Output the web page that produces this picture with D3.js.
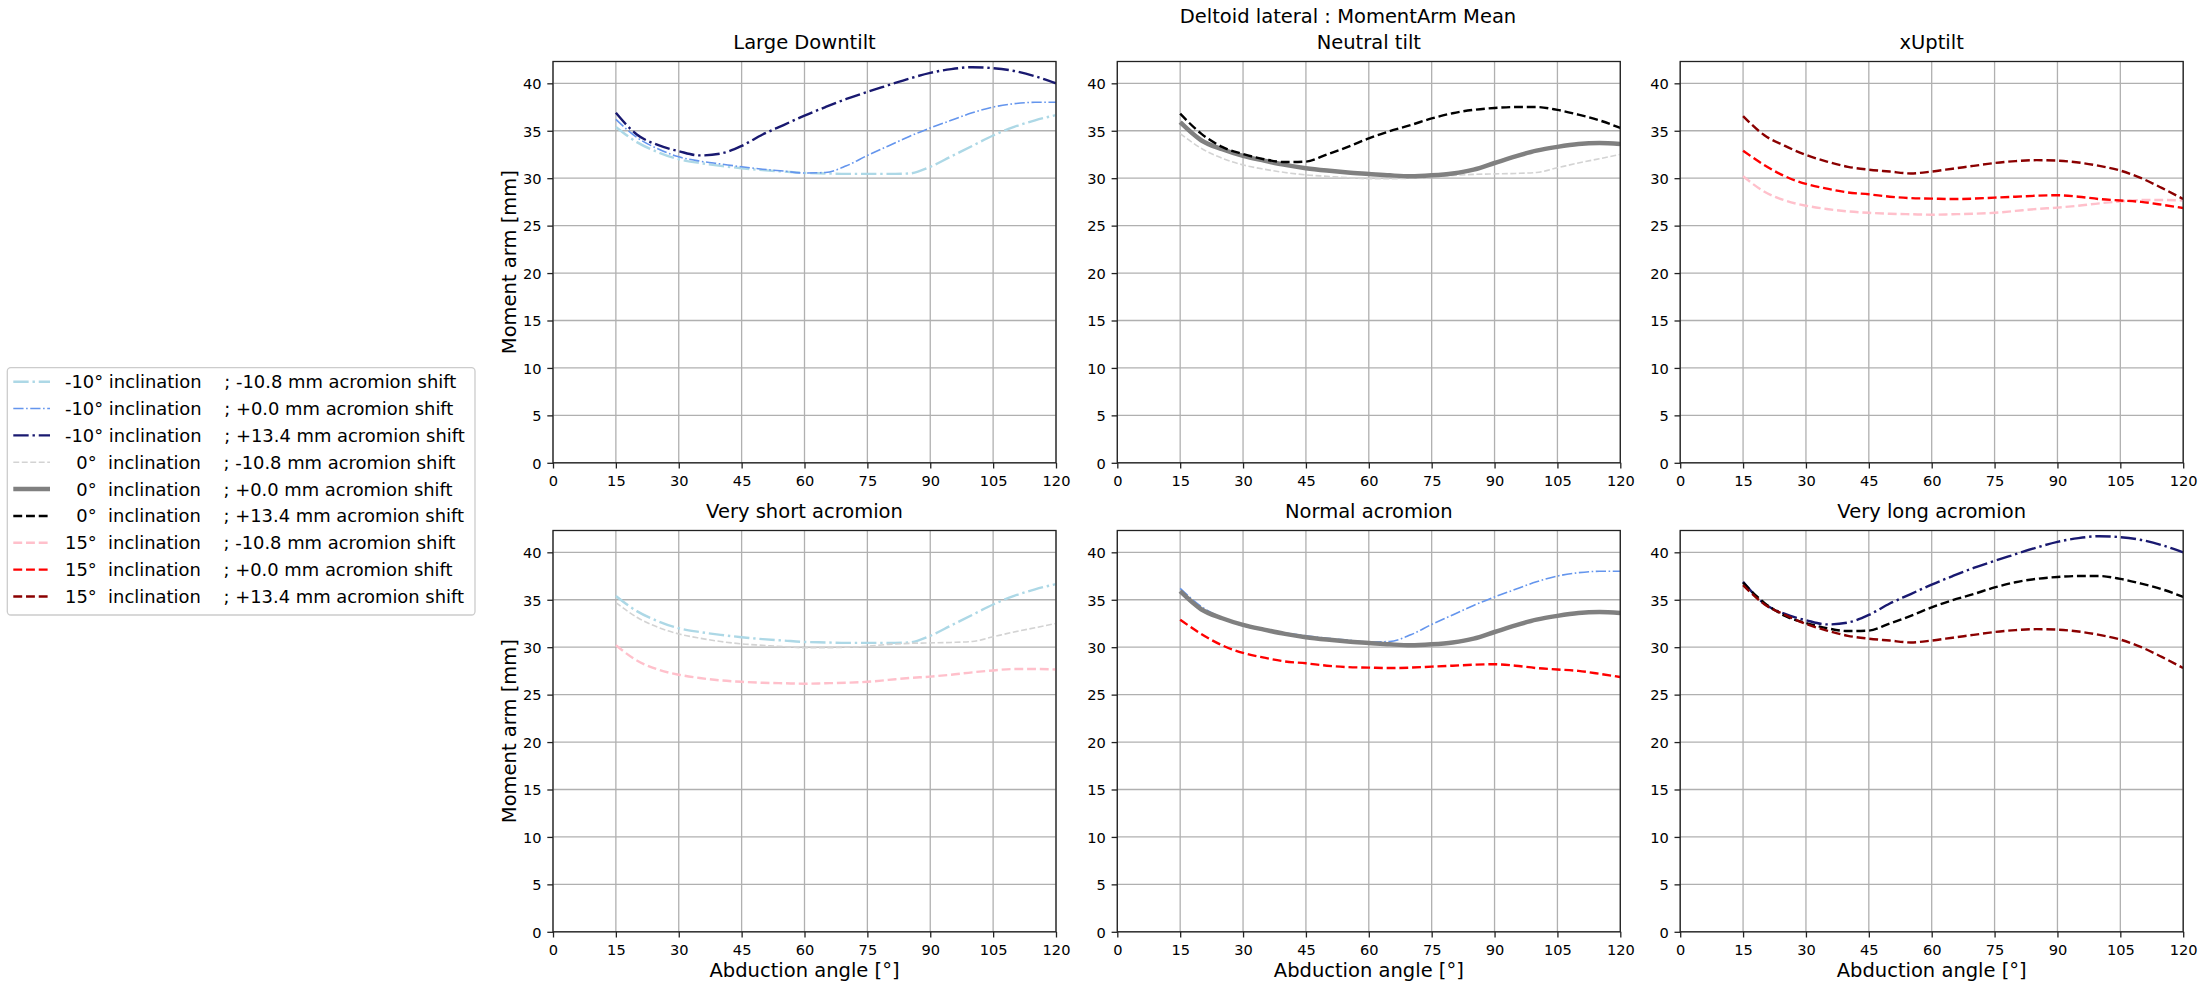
<!DOCTYPE html>
<html>
<head>
<meta charset="utf-8">
<script src="https://cdn.jsdelivr.net/npm/d3@7"></script>
<style>
  html, body { margin: 0; padding: 0; background: #fff; }
  svg { display: block; font-family: "DejaVu Sans", sans-serif; }
  .leg text { white-space: pre; }
</style>
</head>
<body>
<svg id="chart" width="2205" height="988"></svg>
<script>
// ---------------- data ----------------
const angles = [15,20,25,30,35,40,45,50,55,60,65,70,75,80,85,90,95,100,105,110,115,120];

const incM10_shiftM108 = [35.4,33.8,32.75,32.0,31.6,31.3,31.05,30.85,30.7,30.55,30.5,30.45,30.45,30.45,30.5,31.2,32.3,33.4,34.5,35.4,36.1,36.65];
const incM10_shift00   = [36.2,34.3,33.1,32.25,31.8,31.5,31.2,30.95,30.75,30.55,30.6,31.3,32.4,33.4,34.4,35.3,36.1,36.9,37.5,37.85,38.0,38.0];
const incM10_shift134  = [36.9,34.6,33.5,32.85,32.4,32.6,33.4,34.6,35.6,36.6,37.5,38.35,39.1,39.8,40.5,41.1,41.5,41.7,41.6,41.3,40.75,40.0];
const inc0_shiftM108   = [34.7,33.15,32.1,31.4,30.95,30.6,30.35,30.2,30.05,29.95,29.95,30.0,30.1,30.3,30.4,30.45,30.5,30.6,31.1,31.6,32.05,32.5];
const inc0_shift00     = [35.9,34.0,33.05,32.35,31.85,31.4,31.05,30.8,30.6,30.45,30.3,30.2,30.3,30.5,30.9,31.6,32.3,32.9,33.3,33.6,33.7,33.6];
const inc0_shift134    = [36.8,34.7,33.3,32.55,32.0,31.7,31.75,32.5,33.3,34.2,34.95,35.6,36.3,36.85,37.2,37.4,37.5,37.5,37.2,36.7,36.1,35.3];
const inc15_shiftM108  = [30.2,28.6,27.65,27.1,26.75,26.5,26.35,26.25,26.2,26.15,26.2,26.25,26.35,26.55,26.75,26.9,27.1,27.35,27.55,27.7,27.7,27.65];
const inc15_shift00    = [32.9,31.4,30.2,29.4,28.9,28.5,28.3,28.05,27.9,27.85,27.8,27.85,27.95,28.05,28.15,28.2,28.05,27.8,27.65,27.5,27.2,26.85];
const inc15_shift134   = [36.55,34.55,33.4,32.45,31.75,31.2,30.9,30.7,30.5,30.7,31.0,31.3,31.6,31.8,31.9,31.85,31.65,31.3,30.8,30.0,28.95,27.8];

const seriesLabels = [
  "-10° inclination    ; -10.8 mm acromion shift",
  "-10° inclination    ; +0.0 mm acromion shift",
  "-10° inclination    ; +13.4 mm acromion shift",
  "  0°  inclination    ; -10.8 mm acromion shift",
  "  0°  inclination    ; +0.0 mm acromion shift",
  "  0°  inclination    ; +13.4 mm acromion shift",
  "15°  inclination    ; -10.8 mm acromion shift",
  "15°  inclination    ; +0.0 mm acromion shift",
  "15°  inclination    ; +13.4 mm acromion shift"
];
const seriesValues = [incM10_shiftM108, incM10_shift00, incM10_shift134,
                      inc0_shiftM108, inc0_shift00, inc0_shift134,
                      inc15_shiftM108, inc15_shift00, inc15_shift134];
const seriesColors = ["#add8e6","#6495ed","#191970","#d3d3d3","#808080","#000000","#ffc0cb","#ff0000","#8b0000"];
const seriesStyles = ["dashdot","dashdot","dashdot","dashed","solid","dashed","dashed","dashed","dashed"];
const seriesWidths = [2.4,1.6,2.4,1.6,4.5,2.4,2.4,2.4,2.4];

const panelTitles = ["Large Downtilt","Neutral tilt","xUptilt","Very short acromion","Normal acromion","Very long acromion"];
const panelSeries = [[0,1,2],[3,4,5],[6,7,8],[0,3,6],[1,4,7],[2,5,8]];

const xTicks = [0,15,30,45,60,75,90,105,120];
const yTicks = [0,5,10,15,20,25,30,35,40];
const xDomain = [0,120];
const yDomain = [0,42.3];

const suptitle = "Deltoid lateral : MomentArm Mean";
const xLabel = "Abduction angle [°]";
const yLabel = "Moment arm [mm]";

// ---------------- layout ----------------
const colX = [553, 1117.3, 1680.2];
const rowY = [61.5, 530.5];
const PW = 503, PH = 401.3;
const FS_TICK = 14.6, FS_TITLE = 19.5, FS_LEG = 17.9;

const svg = d3.select("#chart");
const x = d3.scaleLinear().domain(xDomain).range([0, PW]);
const y = d3.scaleLinear().domain(yDomain).range([PH, 0]);

function dashFor(style, lw) {
  if (style === "dashed") return [3.7*lw, 1.6*lw].join(",");
  if (style === "dashdot") return [6.4*lw, 1.6*lw, 1*lw, 1.6*lw].join(",");
  return null;
}

const defs = svg.append("defs");
defs.append("clipPath").attr("id","clipP").append("rect")
  .attr("x",0).attr("y",0).attr("width",PW).attr("height",PH);

const line = d3.line().x((d,i)=>x(angles[i])).y(d=>y(d)).curve(d3.curveMonotoneX);

svg.append("text").attr("x",1348).attr("y",22.7).attr("text-anchor","middle")
  .attr("font-size",FS_TITLE).attr("fill","#000").text(suptitle);

panelTitles.forEach((title, p) => {
  const r = Math.floor(p/3), c = p % 3;
  const g = svg.append("g").attr("transform",`translate(${colX[c]},${rowY[r]})`);

  // grid
  g.append("g").selectAll("line").data(xTicks).join("line")
    .attr("x1",d=>x(d)).attr("x2",d=>x(d)).attr("y1",0).attr("y2",PH)
    .attr("stroke","#b0b0b0").attr("stroke-width",1.3);
  g.append("g").selectAll("line").data(yTicks).join("line")
    .attr("x1",0).attr("x2",PW).attr("y1",d=>y(d)).attr("y2",d=>y(d))
    .attr("stroke","#b0b0b0").attr("stroke-width",1.3);

  // series
  const lg = g.append("g").attr("clip-path","url(#clipP)");
  panelSeries[p].forEach(s => {
    const lw = seriesWidths[s];
    lg.append("path").datum(seriesValues[s])
      .attr("d", line).attr("fill","none")
      .attr("stroke", seriesColors[s]).attr("stroke-width", lw)
      .attr("stroke-dasharray", dashFor(seriesStyles[s], lw))
      .attr("stroke-linejoin","round");
  });

  // axes
  const ax = g.append("g").attr("transform",`translate(0,${PH})`)
    .call(d3.axisBottom(x).tickValues(xTicks).tickSize(5.7).tickPadding(5.7).tickSizeOuter(0));
  const ay = g.append("g")
    .call(d3.axisLeft(y).tickValues(yTicks).tickSize(5.7).tickPadding(5.7).tickSizeOuter(0));
  [ax, ay].forEach(a => {
    a.select(".domain").remove();
    a.selectAll("line").attr("stroke","#222").attr("stroke-width",1.3);
    a.selectAll("text").attr("font-size",FS_TICK).attr("fill","#000")
      .attr("font-family","DejaVu Sans");
  });
  ax.selectAll("text").attr("dy",null).attr("y",23.5);
  ay.selectAll("text").attr("dy","0.36em");

  // spines
  g.append("rect").attr("x",0).attr("y",0).attr("width",PW).attr("height",PH)
    .attr("fill","none").attr("stroke","#222").attr("stroke-width",1.3);

  // title
  g.append("text").attr("x",PW/2).attr("y",-12.2).attr("text-anchor","middle")
    .attr("font-size",FS_TITLE).attr("fill","#000").text(title);

  if (c === 0) {
    g.append("text").attr("transform",`translate(-37,${PH/2}) rotate(-90)`)
      .attr("text-anchor","middle").attr("font-size",FS_TITLE).attr("fill","#000").text(yLabel);
  }
  if (r === 1) {
    g.append("text").attr("x",PW/2).attr("y",PH+45.2).attr("text-anchor","middle")
      .attr("font-size",FS_TITLE).attr("fill","#000").text(xLabel);
  }
});

// ---------------- legend ----------------
const leg = svg.append("g").attr("class","leg");
leg.append("rect").attr("x",7.3).attr("y",367.7).attr("width",467.7).attr("height",247.3)
  .attr("rx",3.5).attr("fill","#fff").attr("fill-opacity",0.8)
  .attr("stroke","#cccccc").attr("stroke-width",1.3);
seriesLabels.forEach((lab, i) => {
  const cy = 381.7 + i*26.85;
  const lw = seriesWidths[i];
  leg.append("line").attr("x1",13.3).attr("x2",50).attr("y1",cy).attr("y2",cy)
    .attr("stroke",seriesColors[i]).attr("stroke-width",lw)
    .attr("stroke-dasharray",dashFor(seriesStyles[i], lw));
  leg.append("text").attr("x",65).attr("y",cy+6.5).attr("font-size",FS_LEG)
    .attr("fill","#000").attr("xml:space","preserve").text(lab);
});
</script>
</body>
</html>
